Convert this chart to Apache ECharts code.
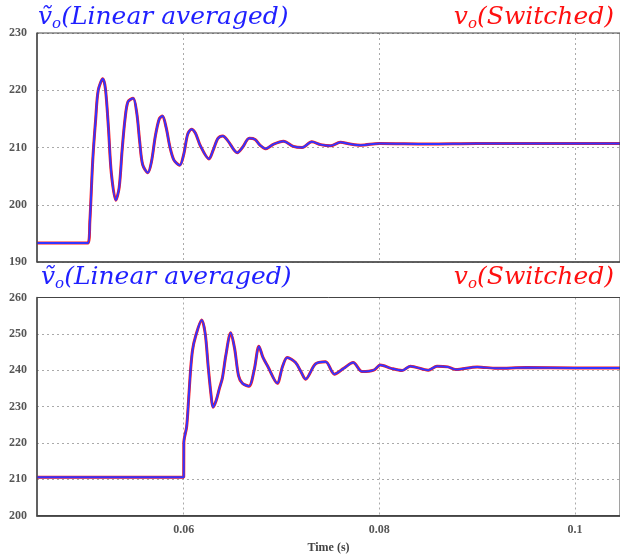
<!DOCTYPE html>
<html>
<head>
<meta charset="utf-8">
<script src="https://cdn.jsdelivr.net/npm/echarts@6/dist/echarts.min.js"></script>
<style>
  html, body { margin: 0; padding: 0; background: #fff; }
  #chart { width: 620px; height: 557px; }
</style>
</head>
<body>
<div id="chart"></div>
<script>
// time stamps (s) and voltages
const timeTop = [0.0450, 0.0502, 0.0504, 0.0507, 0.0510, 0.05126, 0.05173, 0.0520, 0.0523, 0.0526,
  0.05306, 0.0534, 0.0537, 0.0540, 0.0543, 0.05483, 0.0552, 0.0555, 0.0558, 0.05633,
  0.0567, 0.0571, 0.0575, 0.05783, 0.0582, 0.0586, 0.0590, 0.05959, 0.0600, 0.0604,
  0.06079, 0.0612, 0.0617, 0.06258, 0.0630, 0.0635, 0.0640, 0.0645, 0.06548, 0.0660,
  0.0667, 0.0673, 0.0678, 0.06837, 0.0692, 0.0702, 0.0712, 0.0721, 0.0731, 0.0740,
  0.0750, 0.0760, 0.0770, 0.0781, 0.0800, 0.0850, 0.0900, 0.0950, 0.1046]
const vAvgTop = [193.3, 193.3, 197.0, 207.8, 215.0, 220.0, 222.0, 220.2, 213.5, 205.5,
  200.8, 203.0, 209.5, 215.0, 218.0, 218.6, 216.0, 211.0, 207.0, 205.6,
  207.5, 212.0, 215.0, 215.5, 213.5, 210.0, 207.8, 206.9, 208.8, 212.3,
  213.2, 212.5, 210.3, 208.0, 209.5, 211.6, 212.0, 211.2, 209.1, 210.0,
  211.6, 211.4, 210.4, 209.8, 210.6, 211.1, 210.2, 210.0, 211.0, 210.5,
  210.3, 210.9, 210.6, 210.4, 210.7, 210.6, 210.7, 210.7, 210.7]
// the switched trace sits on top of the averaged one
const vSwTop = vAvgTop

const timeBot = [0.0450, 0.0600, 0.06001, 0.0603, 0.0605, 0.0607, 0.0609, 0.0612, 0.06184, 0.0622,
  0.0625, 0.0628, 0.06299, 0.0633, 0.06365, 0.06395, 0.0643, 0.0648, 0.0652, 0.0656,
  0.06599, 0.06667, 0.0672, 0.06769, 0.0681, 0.0686, 0.06956, 0.0701, 0.07058, 0.07143,
  0.0720, 0.07245, 0.07347, 0.0745, 0.07541, 0.07636, 0.07732, 0.07823, 0.07942, 0.0801,
  0.0812, 0.08232, 0.08316, 0.0850, 0.08589, 0.0870, 0.0878, 0.0900, 0.0920, 0.0950,
  0.1000, 0.1046]
const vAvgBot = [210.5, 210.5, 220.0, 224.5, 232.0, 240.0, 245.5, 249.2, 253.8, 250.0,
  241.0, 233.0, 229.8, 231.5, 235.0, 237.8, 244.0, 250.3, 246.0, 238.5,
  236.4, 235.6, 240.0, 246.6, 243.5, 241.0, 236.4, 241.0, 243.5, 242.1,
  239.5, 237.5, 241.7, 242.3, 238.9, 240.5, 242.1, 239.6, 240.0, 241.4,
  240.5, 239.9, 241.1, 240.0, 241.1, 240.9, 240.2, 240.9, 240.5, 240.7,
  240.6, 240.6]
const vSwBot = vAvgBot

const xTicks = [0.06, 0.08, 0.1]
const xLabels = ['0.06', '0.08', '0.1']

const zip = (t, v) => t.map((x, i) => [x, v[i]])

const BLUE = '#3434ff'
const RED = '#ff1a1a'
const labelFont = { fontFamily: 'Liberation Serif', fontSize: 12, fontWeight: 'bold', color: '#555' }
const dotted = { show: true, lineStyle: { color: '#aaa', type: [2, 3], width: 1 } }

const titleRich = (color) => ({
  v: { fontFamily: 'DejaVu Serif', fontStyle: 'italic', fontWeight: 'normal', fontSize: 25, color, lineHeight: 30 },
  s: { fontFamily: 'DejaVu Serif', fontStyle: 'italic', fontWeight: 'normal', fontSize: 15, color, lineHeight: 14, verticalAlign: 'bottom' },
})

const makeTitle = (text, color, pos) => ({
  text,
  ...pos,
  padding: 0,
  textStyle: { fontWeight: 'normal', rich: titleRich(color) },
})

const xAxisBase = (gridIndex, showLabels) => ({
  type: 'value',
  gridIndex,
  min: 0.045,
  max: 0.1046,
  axisLine: { show: true, lineStyle: { color: '#555', width: showLabels ? 2 : 1.5 } },
  axisTick: { show: false, customValues: xTicks },
  splitLine: dotted,
  axisLabel: {
    show: showLabels,
    customValues: xTicks,
    margin: 8,
    ...labelFont,
    formatter: (v) => xLabels[xTicks.indexOf(v)] ?? '',
  },
  name: showLabels ? 'Time (s)' : '',
  nameLocation: 'middle',
  nameGap: 26,
  nameTextStyle: { fontFamily: 'Liberation Serif', fontSize: 12, fontWeight: 'bold', color: '#444' },
})

const yAxisBase = (gridIndex, min, max) => ({
  type: 'value',
  gridIndex,
  min,
  max,
  interval: 10,
  axisLine: { show: true, lineStyle: { color: '#555', width: 1.5 } },
  axisTick: { show: false },
  splitLine: dotted,
  axisLabel: { margin: 10, ...labelFont },
})

const line = (name, data, idx, color, width, z) => ({
  type: 'line',
  name,
  xAxisIndex: idx,
  yAxisIndex: idx,
  data,
  symbol: 'none',
  smooth: 0.3,
  z,
  lineStyle: { color, width },
  emphasis: { disabled: true },
})

const chart = echarts.init(document.getElementById('chart'), null, { renderer: 'canvas' })
chart.setOption({
  animation: false,
  backgroundColor: '#fff',
  title: [
    makeTitle('{v|\u1E7D}{s|o}{v|(Linear averaged)}', '#1f1fff', { left: 38, top: 2 }),
    makeTitle('{v|v}{s|o}{v|(Switched)}', '#ff1010', { right: 6, top: 2 }),
    makeTitle('{v|\u1E7D}{s|o}{v|(Linear averaged)}', '#1f1fff', { left: 41, top: 262 }),
    makeTitle('{v|v}{s|o}{v|(Switched)}', '#ff1010', { right: 6, top: 262 }),
  ],
  grid: [
    { left: 37, top: 33, right: -1, height: 229, show: true, z: 5, borderColor: '#444', borderWidth: 1 },
    { left: 37, top: 297.5, right: -1, height: 218, show: true, z: 5, borderColor: '#444', borderWidth: 1 },
  ],
  xAxis: [xAxisBase(0, false), xAxisBase(1, true)],
  yAxis: [yAxisBase(0, 190, 230), yAxisBase(1, 200, 260)],
  series: [
    line('vo switched', zip(timeTop, vSwTop), 0, RED, 3, 2),
    line('vo averaged', zip(timeTop, vAvgTop), 0, BLUE, 2, 3),
    line('vo switched', zip(timeBot, vSwBot), 1, RED, 3, 2),
    line('vo averaged', zip(timeBot, vAvgBot), 1, BLUE, 2, 3),
  ],
})
</script>
</body>
</html>
